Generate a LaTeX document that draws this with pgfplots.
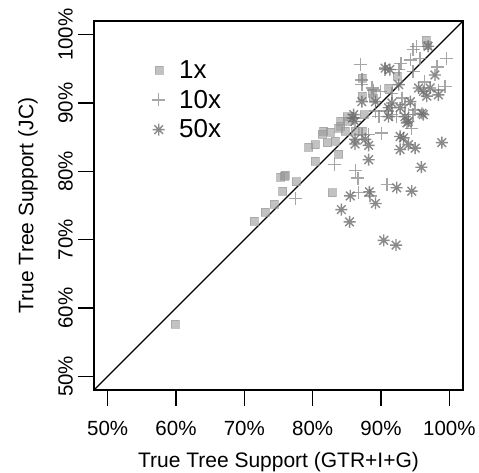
\documentclass[border=0pt]{standalone}
\usepackage{pgfplots}
\pgfplotsset{compat=1.18}
\usepackage{fontspec}
\setmainfont{Liberation Sans}
\definecolor{sqc}{HTML}{9A9A9A}
\definecolor{plc}{HTML}{888888}
\definecolor{stc}{HTML}{6E6E6E}
\pgfdeclareplotmark{rast}{%
  \pgfpathmoveto{\pgfqpoint{-\pgfplotmarksize}{0pt}}\pgfpathlineto{\pgfqpoint{\pgfplotmarksize}{0pt}}%
  \pgfpathmoveto{\pgfqpoint{0pt}{-\pgfplotmarksize}}\pgfpathlineto{\pgfqpoint{0pt}{\pgfplotmarksize}}%
  \pgfpathmoveto{\pgfqpoint{-0.72\pgfplotmarksize}{-0.72\pgfplotmarksize}}\pgfpathlineto{\pgfqpoint{0.72\pgfplotmarksize}{0.72\pgfplotmarksize}}%
  \pgfpathmoveto{\pgfqpoint{-0.72\pgfplotmarksize}{0.72\pgfplotmarksize}}\pgfpathlineto{\pgfqpoint{0.72\pgfplotmarksize}{-0.72\pgfplotmarksize}}%
  \pgfusepathqstroke}
\begin{document}
\begin{tikzpicture}
\begin{axis}[
  at={(0,0)}, anchor=south west,
  width=369pt, height=369pt, scale only axis,
  xmin=48, xmax=102, ymin=48, ymax=102,
  xtick={50,60,70,80,90,100}, ytick={50,60,70,80,90,100},
  xticklabels={50\%,60\%,70\%,80\%,90\%,100\%},
  yticklabels={50\%,60\%,70\%,80\%,90\%,100\%},
  axis line style={line width=1.4pt},
  tick style={line width=1.4pt, black},
  tick align=outside, major tick length=16pt,
  tick pos=left,
  ticklabel style={font=\fontsize{20.5}{24}\selectfont},
  xticklabel style={anchor=north, inner sep=0pt},
  yticklabel style={rotate=90, anchor=south, inner sep=0pt},
  xticklabel shift=15pt, yticklabel shift=5pt,
  xlabel={True Tree Support (GTR+I+G)},
  ylabel={True Tree Support (JC)},
  label style={font=\fontsize{21}{25}\selectfont},
  xlabel style={at={(axis description cs:0.5,-0.21)}, anchor=base},
  ylabel style={at={(axis description cs:-0.164,0.5)}, anchor=base},
  legend style={at={(axis cs:56.05,96.8)}, anchor=north west, draw=none, fill=none,
    font=\fontsize{26}{30}\selectfont, row sep=6pt, column sep=12pt},
  legend cell align=left,
]
\addplot[only marks, mark=square*, mark size=4pt, color=sqc, mark options={draw=none, fill=sqc, opacity=0.6}] coordinates {
(59.9,57.7) (71.4,72.7) (73.0,74.0) (74.3,75.2) (75.6,77.1) (75.8,79.3) (75.3,79.1)
(76.0,79.5) (77.6,78.5) (80.4,81.5) (79.4,83.5) (80.3,83.9) (81.4,85.5) (82.1,84.2)
(82.6,85.8) (83.3,84.4) (84.1,86.6) (83.8,82.5) (82.8,76.9) (84.8,85.9) (85.0,87.3)
(96.6,99.2) (96.8,98.5) (87.2,93.6) (92.3,93.9) (88.7,91.4) (87.2,91.0) (91.1,92.2)
(85.0,88.0) (84.1,87.3) (87.5,88.3) (88.9,90.7) (86.2,85.9) (83.8,86.3) (87.2,85.9)
(81.6,85.9)
};
\addlegendentry{1x}
\addplot[only marks, mark=+, mark size=6.5pt, color=plc, mark options={draw=plc, opacity=0.75, line width=1.5pt}] coordinates {
(77.5,76.0) (83.2,81.0) (86.3,80.1) (86.6,79.0) (86.7,76.9) (88.4,76.4) (90.9,78.1)
(87.0,95.6) (94.7,97.8) (95.2,98.3) (94.3,96.3) (95.7,96.5) (99.6,96.5) (98.2,95.3)
(92.9,95.8) (92.6,94.9) (94.7,94.6) (90.6,94.9) (87.2,92.7) (88.7,92.2) (89.9,91.7)
(91.6,91.4) (99.4,92.4) (98.4,91.9) (96.4,93.1) (89.2,88.8) (90.9,88.8) (93.1,90.7)
(93.5,89.8) (89.7,88.0) (92.3,88.0) (94.0,88.3) (95.0,89.0) (86.0,87.8) (90.1,85.6)
(88.2,85.4) (94.5,86.3) (91.6,88.3) (94.7,88.3) (87.2,93.4) (88.9,91.9) (87.2,85.4)
};
\addlegendentry{10x}
\addplot[only marks, mark=rast, mark size=6pt, color=stc, mark options={draw=stc, opacity=0.8, line width=1.4pt}] coordinates {
(86.2,84.0) (88.2,83.8) (88.2,81.7) (92.8,83.2) (95.0,83.4) (98.9,84.2) (95.9,80.6)
(85.5,76.4) (88.3,77.0) (89.2,75.3) (92.3,77.6) (94.5,77.1) (84.2,74.4) (85.4,72.6)
(90.4,69.9) (92.2,69.2) (96.9,98.3) (90.6,95.1) (91.3,94.9) (97.9,94.1) (92.6,92.7)
(95.5,92.2) (96.2,91.7) (97.2,92.2) (98.4,91.2) (96.7,91.0) (87.2,90.2) (89.2,90.2)
(91.6,90.0) (94.3,90.2) (91.1,89.3) (92.8,89.3) (86.0,88.3) (85.8,87.8) (91.1,88.0)
(93.5,88.0) (96.2,88.3) (93.8,87.1) (86.2,87.3) (86.2,84.7) (87.7,84.7) (92.8,85.1)
(93.3,84.9) (94.0,83.9) (96.0,88.5) (94.0,87.3)
};
\addlegendentry{50x}
\addplot[black, line width=1.2pt, forget plot] coordinates {(48,48) (102,102)};
\end{axis}
\pgfresetboundingbox
\path[use as bounding box] (-94pt,-82pt) rectangle (385pt,390pt);
\end{tikzpicture}
\end{document}
